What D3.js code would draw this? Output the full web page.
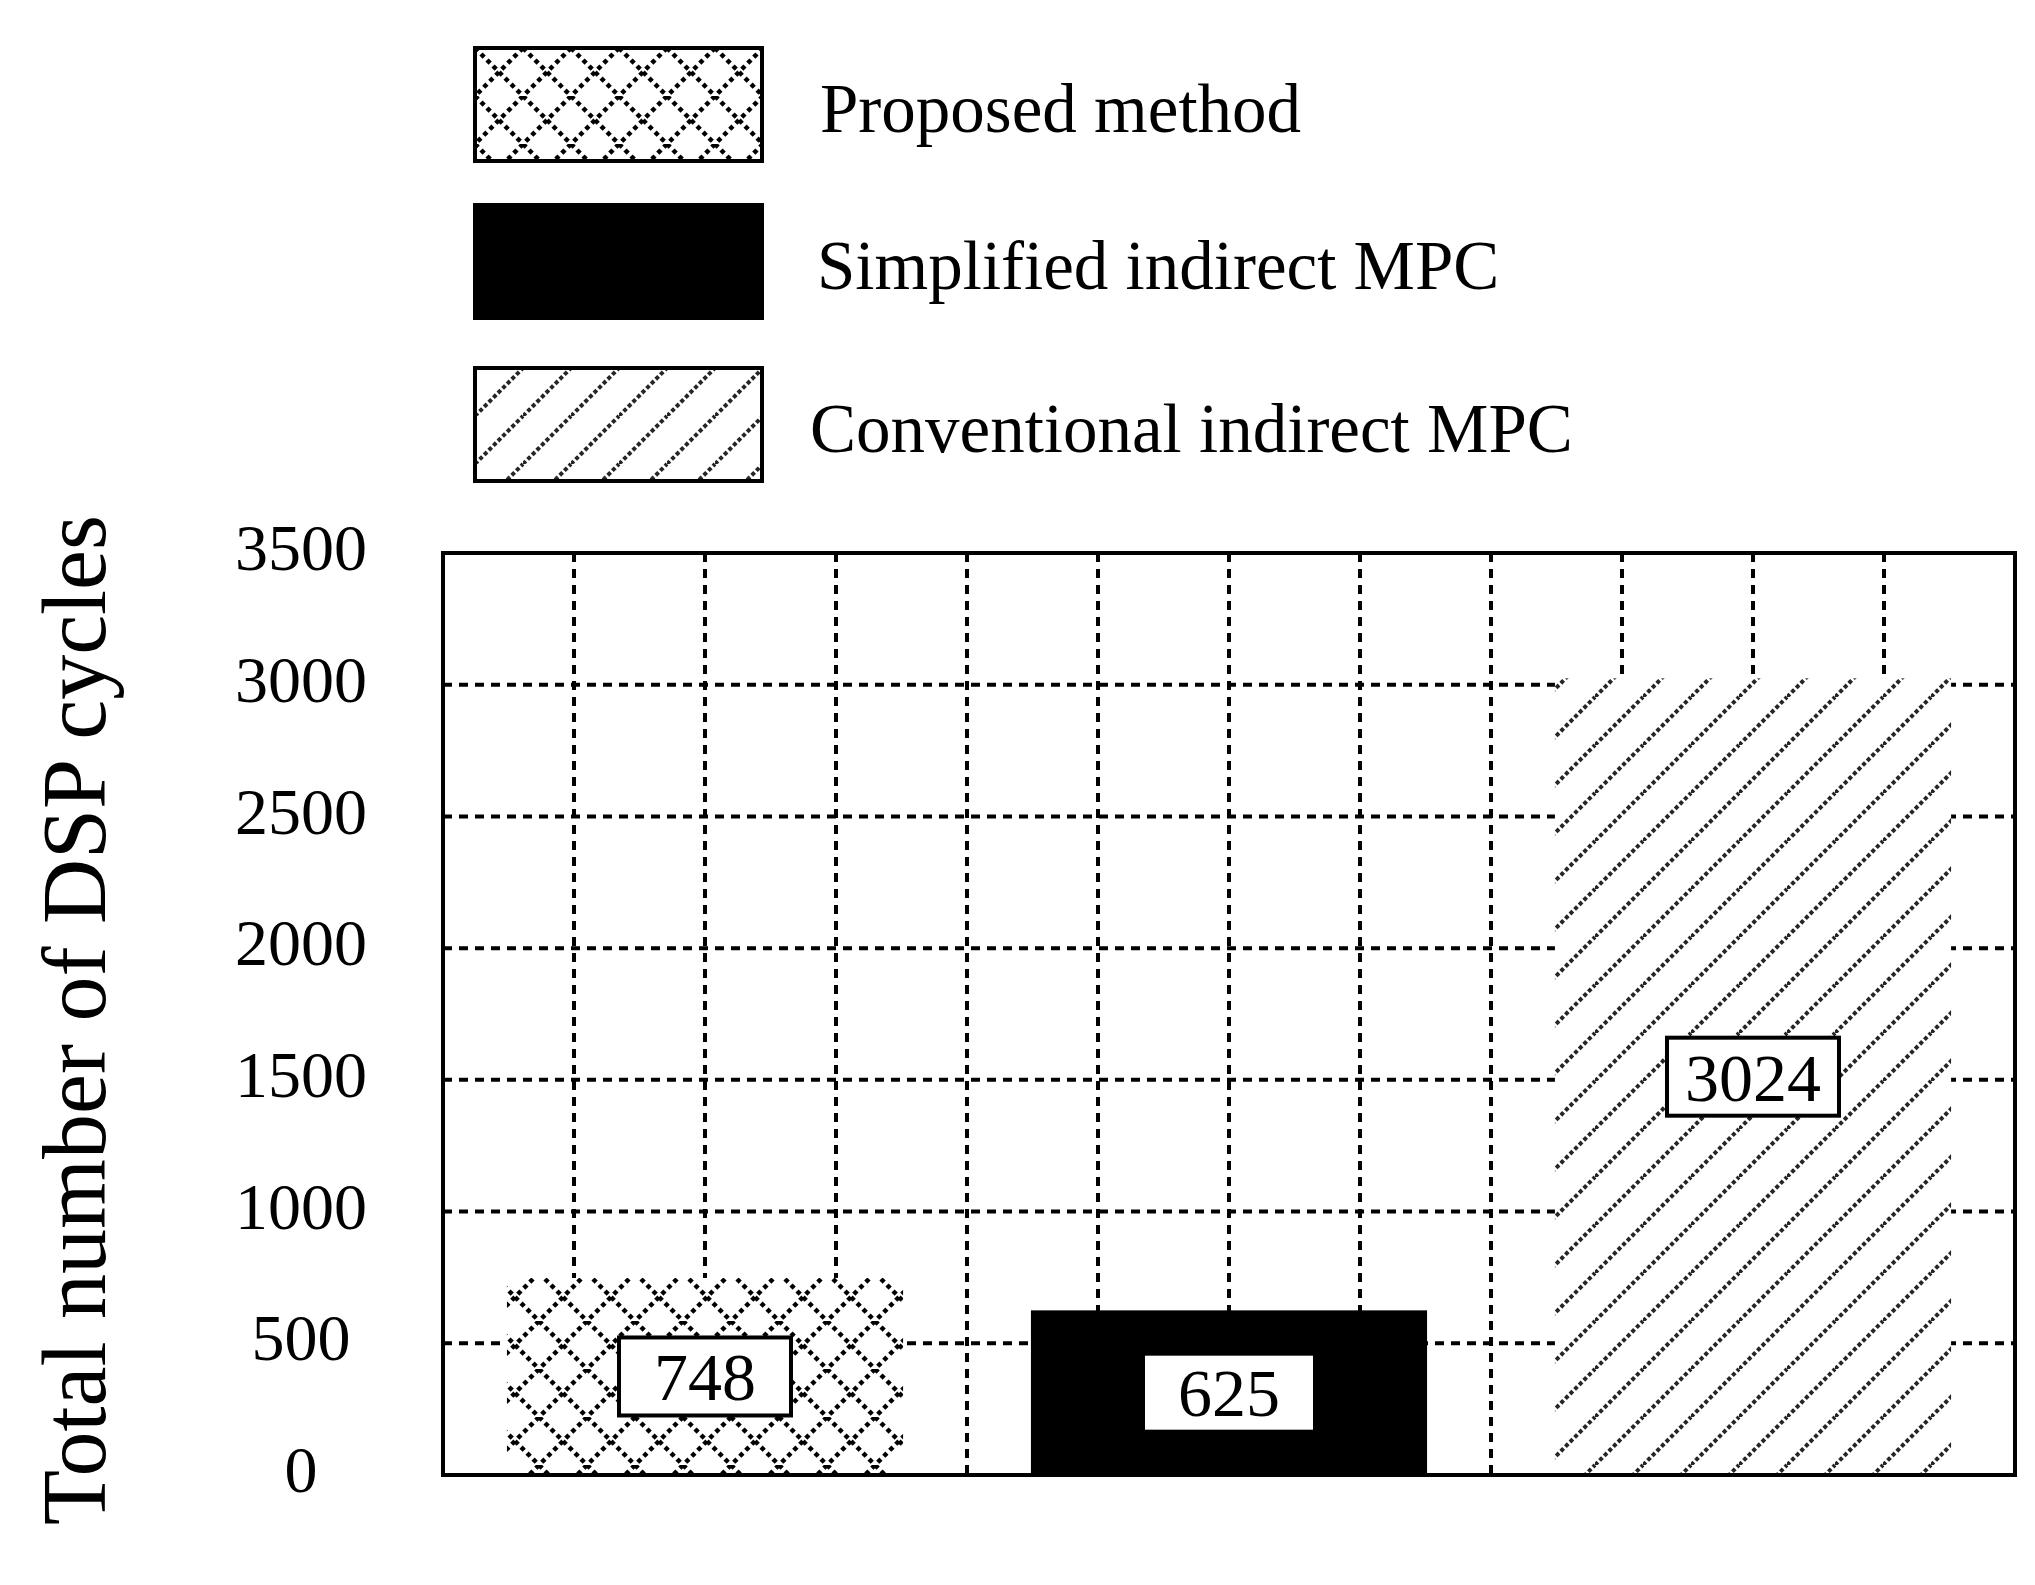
<!DOCTYPE html>
<html>
<head>
<meta charset="utf-8">
<script src="https://cdn.jsdelivr.net/npm/d3@7"></script>
<style>
  body { margin: 0; background: #fff; }
  text { font-family: "Liberation Serif", "Times New Roman", serif; fill: #000; }
</style>
</head>
<body>
<script>
var methods = ["Proposed method", "Simplified indirect MPC", "Conventional indirect MPC"];
var cycles = [748, 625, 3024];
var yTicks = [0, 500, 1000, 1500, 2000, 2500, 3000, 3500];
var fills = ["url(#cross)", "#000", "url(#diag)"];

var W = 2035, H = 1585;
var margin = { top: 553, right: 20, bottom: 110, left: 443 },
    width = W - margin.left - margin.right,
    height = H - margin.top - margin.bottom;

var svg = d3.select("body").append("svg")
    .attr("width", W).attr("height", H);

// patterns
var defs = svg.append("defs");
var cross = defs.append("pattern").attr("id", "cross")
    .attr("patternUnits", "userSpaceOnUse").attr("width", 48).attr("height", 48);
cross.append("rect").attr("width", 48).attr("height", 48).attr("fill", "#fff");
cross.append("path").attr("d", "M0,0L48,48M48,0L0,48")
    .attr("stroke", "#000").attr("stroke-width", 4.5).attr("stroke-dasharray", "4.5,4");
var diag = defs.append("pattern").attr("id", "diag")
    .attr("patternUnits", "userSpaceOnUse").attr("width", 48).attr("height", 48);
diag.append("rect").attr("width", 48).attr("height", 48).attr("fill", "#fff");
diag.append("path").attr("d", "M-12,12L12,-12M0,48L48,0M36,60L60,36")
    .attr("stroke", "#000").attr("stroke-width", 4).attr("stroke-dasharray", "4,2.5").attr("stroke-opacity", 0.85);

var g = svg.append("g").attr("transform", "translate(" + margin.left + "," + margin.top + ")");

var x = d3.scaleBand().domain(methods).range([0, width]).paddingInner(0.244).paddingOuter(0.122);
var y = d3.scaleLinear().domain([0, 3500]).range([height, 0]);

// grid
var vx = d3.range(1, 12).map(function(i) { return i * width / 12; });
g.selectAll(".vgrid").data(vx).enter().append("line")
    .attr("x1", function(d) { return d; }).attr("x2", function(d) { return d; })
    .attr("y1", 0).attr("y2", height)
    .attr("stroke", "#000").attr("stroke-width", 4).attr("stroke-dasharray", "9,7");
g.selectAll(".hgrid").data(yTicks.slice(1, -1)).enter().append("line")
    .attr("x1", 0).attr("x2", width)
    .attr("y1", function(d) { return y(d); }).attr("y2", function(d) { return y(d); })
    .attr("stroke", "#000").attr("stroke-width", 4).attr("stroke-dasharray", "9,7");

// bars
g.selectAll(".bar").data(cycles).enter().append("rect")
    .attr("x", function(d, i) { return x(methods[i]); })
    .attr("width", x.bandwidth())
    .attr("y", function(d) { return y(d); })
    .attr("height", function(d) { return height - y(d); })
    .attr("fill", function(d, i) { return fills[i]; });

// value labels
var lab = g.selectAll(".lab").data(cycles).enter().append("g")
    .attr("transform", function(d, i) {
      return "translate(" + (x(methods[i]) + x.bandwidth() / 2) + "," + y(d / 2) + ")";
    });
lab.append("rect").attr("x", -86).attr("y", -39).attr("width", 172).attr("height", 78)
    .attr("fill", "#fff").attr("stroke", "#000").attr("stroke-width", 4);
lab.append("text").attr("text-anchor", "middle").attr("dy", "0.35em")
    .style("font-size", "68px").text(function(d) { return d; });

// frame
g.append("rect").attr("width", width).attr("height", height)
    .attr("fill", "none").attr("stroke", "#000").attr("stroke-width", 4);

// y tick labels
svg.selectAll(".ytick").data(yTicks).enter().append("text")
    .attr("x", 301).attr("y", function(d) { return margin.top + y(d) - 6; })
    .attr("dy", "0.35em").attr("text-anchor", "middle")
    .style("font-size", "66px").text(function(d) { return d; });

// y title
svg.append("text")
    .attr("transform", "translate(105,1020) rotate(-90)")
    .attr("text-anchor", "middle")
    .style("font-size", "90px").text("Total number of DSP cycles");

// legend
var legY = [48, 205, 368];
var leg = svg.selectAll(".leg").data(methods).enter().append("g")
    .attr("transform", function(d, i) { return "translate(475," + legY[i] + ")"; });
leg.append("rect").attr("width", 287).attr("height", 113)
    .attr("fill", function(d, i) { return fills[i]; })
    .attr("stroke", "#000").attr("stroke-width", 4);
leg.append("text").attr("x", function(d, i) { return [345, 342, 335][i]; }).attr("y", 60)
    .attr("dy", "0.35em").style("font-size", "69px").text(function(d) { return d; });
</script>
</body>
</html>
